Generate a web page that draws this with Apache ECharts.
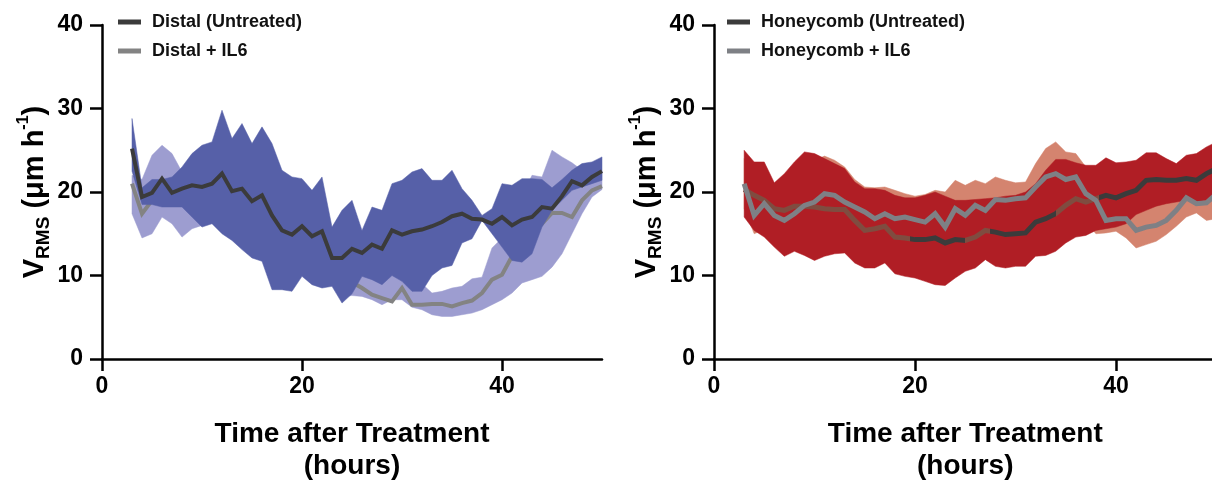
<!DOCTYPE html>
<html>
<head>
<meta charset="utf-8">
<script src="https://cdn.jsdelivr.net/npm/echarts@6/dist/echarts.min.js"></script>
<style>
  html, body { margin: 0; padding: 0; background: #fff; }
  #chart { width: 1212px; height: 480px; }
</style>
</head>
<body>
<div id="chart"></div>
<script>
// Time points (hours after treatment)
const hours = [3, 4, 5, 6, 7, 8, 9, 10, 11, 12, 13, 14, 15, 16, 17, 18, 19, 20, 21, 22, 23, 24, 25, 26,
  27, 28, 29, 30, 31, 32, 33, 34, 35, 36, 37, 38, 39, 40, 41, 42, 43, 44, 45, 46, 47, 48, 49, 50];

const xTicks = [0, 20, 40];
const yTicks = [0, 10, 20, 30, 40];

// Distal, untreated: mean and spread
const distalMean = [25.2, 19.4, 19.9, 21.6, 19.9, 20.4, 20.8, 20.6, 21.0, 22.2, 20.1, 20.4, 18.9, 19.6, 17.2, 15.4,
  14.9, 15.9, 14.7, 15.3, 12.1, 12.1, 13.2, 12.7, 13.7, 13.2, 15.4, 14.9, 15.3, 15.5, 15.9, 16.4,
  17.1, 17.4, 16.8, 16.7, 16.2, 17.0, 16.0, 16.7, 17.0, 18.2, 18.0, 19.5, 21.3, 20.8, 21.8, 22.5];
const distalUpper = [28.8, 20.5, 21.5, 21.5, 21.8, 23.0, 24.6, 25.6, 26.0, 29.8, 26.4, 28.2, 25.8, 27.8, 25.8, 22.6,
  21.8, 21.6, 20.2, 21.8, 15.8, 17.8, 19.0, 15.4, 18.2, 17.8, 21.0, 21.4, 22.4, 22.8, 21.4, 21.4,
  22.6, 20.4, 19.0, 17.2, 18.0, 21.0, 20.8, 21.6, 21.6, 21.5, 20.5, 21.5, 22.6, 23.4, 23.6, 24.2];
const distalLower = [22.5, 18.5, 18.5, 18.2, 18.2, 18.2, 17.0, 15.8, 16.2, 15.0, 14.2, 13.1, 12.1, 11.7, 8.3, 8.3,
  8.1, 9.9, 8.9, 8.5, 8.7, 6.7, 7.8, 9.9, 9.5, 8.9, 10.0, 9.3, 8.1, 8.1, 10.0, 10.9,
  11.2, 13.9, 14.4, 16.6, 15.0, 13.4, 11.8, 11.6, 12.6, 15.8, 17.8, 19.0, 20.2, 20.6, 21.0, 21.4];

// Distal + IL6
const distalIL6Mean = [21.0, 17.4, 19.0, 20.5, 20.0, 19.0, 18.5, 18.0, 17.5, 17.0, 16.5, 15.5, 14.5, 14.0, 13.0, 12.5,
  11.5, 11.0, 10.5, 10.0, 9.8, 9.5, 9.2, 8.5, 7.7, 7.3, 6.9, 8.5, 6.5, 6.5, 6.6, 6.6,
  6.3, 6.7, 7.0, 7.9, 9.5, 10.1, 12.3, 14.3, 15.4, 16.2, 17.5, 17.5, 17.0, 19.0, 20.2, 20.7];
const distalIL6Upper = [22.0, 21.5, 24.4, 25.6, 24.6, 22.4, 21.0, 20.5, 20.0, 19.5, 19.0, 18.0, 17.0, 16.5, 15.5, 15.0,
  14.0, 13.5, 13.0, 12.5, 12.5, 12.0, 11.5, 11.0, 10.5, 10.0, 10.5, 10.5, 9.5, 9.0, 7.9, 8.1,
  8.5, 8.7, 9.6, 9.8, 13.3, 14.5, 17.0, 19.5, 22.0, 21.8, 25.0, 24.2, 23.5, 22.6, 23.0, 22.5];
const distalIL6Lower = [17.4, 14.5, 15.0, 17.0, 16.2, 14.6, 15.6, 16.0, 16.4, 15.2, 14.5, 13.3, 12.3, 11.8, 10.5, 10.0,
  9.0, 10.0, 9.0, 8.6, 8.8, 7.5, 7.6, 7.5, 7.1, 6.5, 7.1, 7.1, 6.2, 5.9, 5.3, 5.1,
  5.1, 5.3, 5.5, 5.9, 6.5, 7.1, 7.9, 9.1, 9.5, 9.9, 11.0, 12.6, 15.0, 17.4, 19.4, 20.3];

// Honeycomb, untreated
const honeyMean = [20.3, 19.6, 19.0, 18.0, 17.8, 18.3, 18.3, 18.2, 18.0, 17.9, 17.9, 16.6, 15.4, 15.6, 15.9, 14.6,
  14.5, 14.3, 14.3, 14.5, 13.9, 14.3, 14.2, 14.6, 15.4, 15.2, 14.9, 15.0, 15.1, 16.4, 16.8, 17.4,
  18.4, 19.2, 18.8, 19.2, 19.6, 19.3, 19.8, 20.2, 21.4, 21.5, 21.4, 21.4, 21.6, 21.4, 22.2, 22.8];
const honeyUpper = [25.0, 23.6, 23.6, 21.1, 22.2, 23.6, 24.8, 24.6, 24.0, 23.4, 22.8, 21.2, 20.4, 20.4, 20.2, 19.6,
  19.3, 19.3, 19.6, 20.0, 19.5, 19.0, 19.0, 19.1, 19.2, 19.3, 19.5, 19.6, 20.0, 21.0, 22.6, 23.9,
  23.9, 23.5, 23.2, 23.2, 24.1, 23.5, 23.6, 23.8, 24.7, 24.7, 24.0, 23.4, 24.4, 24.6, 25.4, 26.0];
const honeyLower = [17.0, 15.4, 14.6, 13.4, 12.3, 12.9, 12.4, 11.8, 12.3, 12.6, 12.7, 11.5, 10.9, 10.9, 11.5, 10.2,
  9.9, 9.7, 9.3, 8.9, 8.8, 9.7, 10.5, 10.9, 11.9, 11.1, 10.9, 11.1, 11.1, 12.3, 12.4, 12.9,
  13.9, 14.6, 14.8, 15.4, 15.6, 15.8, 16.2, 17.3, 17.8, 18.3, 18.6, 18.8, 19.0, 18.8, 19.0, 19.2];

// Honeycomb + IL6
const honeyIL6Mean = [21.0, 17.2, 18.6, 17.2, 16.6, 17.4, 18.4, 18.8, 19.8, 19.6, 18.8, 18.2, 17.6, 16.8, 17.4, 16.8,
  17.0, 16.7, 16.4, 17.4, 15.8, 18.0, 17.2, 18.4, 17.8, 19.1, 19.0, 19.2, 19.3, 20.6, 21.8, 22.2,
  21.5, 21.8, 19.8, 19.0, 16.6, 16.8, 16.8, 15.4, 15.8, 16.0, 16.6, 17.8, 19.3, 18.6, 18.7, 19.8];
const honeyIL6Upper = [24.0, 22.0, 22.0, 21.0, 21.5, 22.0, 23.0, 23.8, 24.3, 23.8, 23.0, 21.5, 20.6, 20.5, 20.6, 20.2,
  19.8, 19.5, 19.7, 20.2, 20.0, 21.4, 20.8, 21.4, 21.0, 21.8, 21.4, 21.1, 21.2, 23.4, 25.2, 26.0,
  24.8, 24.6, 23.0, 22.0, 21.0, 20.0, 20.0, 19.0, 19.0, 19.5, 20.0, 21.0, 22.0, 22.0, 22.0, 22.5];
const honeyIL6Lower = [18.0, 15.0, 15.5, 14.5, 14.0, 14.5, 15.0, 15.5, 16.5, 16.5, 16.0, 15.5, 14.8, 14.0, 14.5, 14.0,
  14.0, 14.6, 14.8, 15.0, 14.5, 15.5, 14.5, 14.2, 14.8, 16.0, 16.0, 16.2, 16.3, 17.5, 18.5, 17.0,
  17.5, 18.0, 16.5, 15.0, 15.1, 15.3, 14.5, 13.3, 13.7, 14.1, 14.9, 15.9, 17.0, 17.5, 16.6, 16.8];

const FONT = '"Liberation Sans", Arial, Helvetica, sans-serif';
const AXIS_COLOR = '#000';

function pairs(values) {
  return hours.map((h, i) => [h, values[i]]);
}

// A shaded range between lower and upper, drawn as one polygon in data coordinates
function band(lower, upper, color, gridIdx, z) {
  return {
    type: 'custom', xAxisIndex: gridIdx, yAxisIndex: gridIdx, silent: true, z: z,
    data: hours.map((h, i) => [h, lower[i], upper[i]]),
    encode: { x: 0, y: [1, 2] },
    renderItem: function (params, api) {
      if (params.dataIndex !== 0) return null;
      const top = hours.map((h, i) => api.coord([h, upper[i]]));
      const bottom = hours.map((h, i) => api.coord([h, lower[i]])).reverse();
      return {
        type: 'polygon',
        shape: { points: top.concat(bottom) },
        style: { fill: color, stroke: color, lineWidth: 0.5 }
      };
    }
  };
}

function meanLine(name, values, color, width, gridIdx, z) {
  const s = {
    type: 'line', name: name, xAxisIndex: gridIdx, yAxisIndex: gridIdx,
    data: pairs(values), symbol: 'none', silent: true, z: z,
    lineStyle: { width: width, join: 'miter' },
    itemStyle: {}
  };
  if (color) {
    s.lineStyle.color = color;
    s.itemStyle.color = color;
  }
  return s;
}

function xAxis(gridIdx) {
  return {
    type: 'value', gridIndex: gridIdx, min: 0, max: 50,
    name: 'Time after Treatment\n(hours)', nameLocation: 'middle', nameGap: 59,
    nameTextStyle: { fontFamily: FONT, fontWeight: 'bold', fontSize: 28, color: '#000', lineHeight: 32 },
    axisLine: { show: true, onZero: false, lineStyle: { color: AXIS_COLOR, width: 2.5 } },
    axisTick: { show: true, length: 12, customValues: xTicks, lineStyle: { color: AXIS_COLOR, width: 2.5 } },
    axisLabel: { customValues: xTicks, margin: 16, fontFamily: FONT, fontWeight: 'bold', fontSize: 23, color: '#000' },
    splitLine: { show: false }
  };
}

function yAxis(gridIdx) {
  return {
    type: 'value', gridIndex: gridIdx, min: 0, max: 40, interval: 10,
    name: '{v|V}{sub|RMS}{v| (μm h}{sup|-1}{v|)}', nameLocation: 'middle', nameGap: 45, nameRotate: 90,
    nameTextStyle: {
      rich: {
        v: { fontFamily: FONT, fontWeight: 'bold', fontSize: 29, color: '#000', lineHeight: 38, verticalAlign: 'middle' },
        sub: { fontFamily: FONT, fontWeight: 'bold', fontSize: 19, color: '#000', lineHeight: 38, verticalAlign: 'bottom' },
        sup: { fontFamily: FONT, fontWeight: 'bold', fontSize: 16, color: '#000', lineHeight: 38, verticalAlign: 'top' }
      }
    },
    axisLine: { show: true, onZero: false, lineStyle: { color: AXIS_COLOR, width: 2.5 } },
    axisTick: { show: true, length: 12, customValues: yTicks, lineStyle: { color: AXIS_COLOR, width: 2.5 } },
    axisLabel: { customValues: yTicks, margin: 19, fontFamily: FONT, fontWeight: 'bold', fontSize: 23, color: '#000' },
    splitLine: { show: false }
  };
}

function legend(left, names, colors) {
  return {
    orient: 'vertical', left: left, top: 13, padding: 0, itemWidth: 23, itemHeight: 5, itemGap: 11,
    icon: 'rect', selectedMode: false,
    textStyle: { fontFamily: FONT, fontWeight: 'bold', fontSize: 18, color: '#111', padding: [0, 0, 0, 6] },
    data: names.map((n, i) => ({ name: n, itemStyle: { color: colors[i] } }))
  };
}

const DARK = '#3b3b3b';
const GREY_L = '#838383';
const GREY_R = '#7e8085';
const BROWN = '#7f4c40';

const series = [
  // Distal panel: IL6 range, IL6 mean, untreated range, untreated mean
  band(distalIL6Lower, distalIL6Upper, '#9d9dd0', 0, 1),
  meanLine('Distal + IL6', distalIL6Mean, GREY_L, 4, 0, 2),
  band(distalLower, distalUpper, '#5660a8', 0, 3),
  meanLine('Distal (Untreated)', distalMean, DARK, 4, 0, 4),
  // Honeycomb panel
  band(honeyIL6Lower, honeyIL6Upper, '#d4846f', 1, 1),
  band(honeyLower, honeyUpper, '#b01e25', 1, 2),
  meanLine('Honeycomb (Untreated)', honeyMean, null, 5, 1, 3),
  meanLine('Honeycomb + IL6', honeyIL6Mean, GREY_R, 5, 1, 4)
];

const honeyMeanIndex = series.findIndex(s => s.name === 'Honeycomb (Untreated)');

const option = {
  animation: false,
  backgroundColor: '#fff',
  grid: [
    { left: 102, top: 25, width: 500, height: 334, outerBoundsMode: 'none', containLabel: false },
    { left: 714, top: 25, width: 502.5, height: 334, outerBoundsMode: 'none', containLabel: false }
  ],
  xAxis: [xAxis(0), xAxis(1)],
  yAxis: [yAxis(0), yAxis(1)],
  legend: [
    legend(118, ['Distal (Untreated)', 'Distal + IL6'], [DARK, GREY_L]),
    legend(727, ['Honeycomb (Untreated)', 'Honeycomb + IL6'], [DARK, GREY_R])
  ],
  // untreated honeycomb mean is tinted where it runs inside the IL6 range
  visualMap: [{
    type: 'piecewise', show: false, dimension: 0, seriesIndex: honeyMeanIndex,
    pieces: [
      { lt: 19.5, color: BROWN },
      { gte: 19.5, lt: 25, color: DARK },
      { gte: 25, lt: 27.5, color: BROWN },
      { gte: 27.5, lt: 34, color: DARK },
      { gte: 34, lt: 38.3, color: BROWN },
      { gte: 38.3, color: DARK }
    ]
  }],
  series: series
};

const chart = echarts.init(document.getElementById('chart'), null, { renderer: 'canvas' });
chart.setOption(option);
</script>
</body>
</html>
